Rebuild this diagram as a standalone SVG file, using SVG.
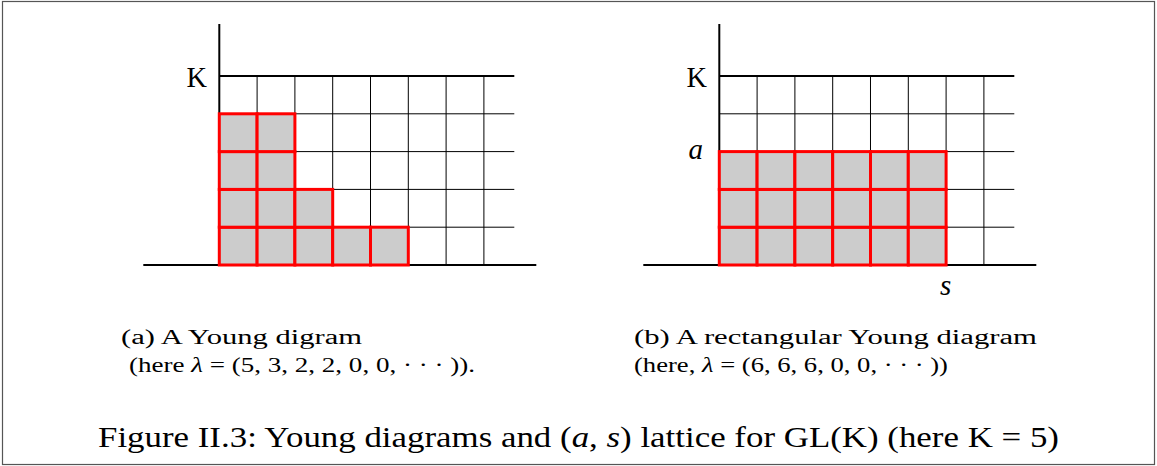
<svg xmlns="http://www.w3.org/2000/svg" width="1157" height="466" viewBox="0 0 1157 466">
<style>
.axis{stroke:#000;stroke-width:2;fill:none}
.grid{stroke:#000;stroke-width:1;fill:none}
.cell{fill:#cccccc;stroke:#ff0000;stroke-width:3}
text{font-family:'Liberation Serif','Times New Roman',Times,serif;fill:#000}
.it{font-style:italic}
</style>
<rect x="2.5" y="1.5" width="1152" height="463" fill="#fff" stroke="#555" stroke-width="1.2"/>
<defs>
<g id="lattice">
<line class="grid" x1="37.8" y1="76" x2="37.8" y2="265"/>
<line class="grid" x1="75.6" y1="76" x2="75.6" y2="265"/>
<line class="grid" x1="113.4" y1="76" x2="113.4" y2="265"/>
<line class="grid" x1="151.2" y1="76" x2="151.2" y2="265"/>
<line class="grid" x1="189" y1="76" x2="189" y2="265"/>
<line class="grid" x1="226.8" y1="76" x2="226.8" y2="265"/>
<line class="grid" x1="264.6" y1="76" x2="264.6" y2="265"/>
<line class="grid" x1="0" y1="113.8" x2="295" y2="113.8"/>
<line class="grid" x1="0" y1="151.6" x2="295" y2="151.6"/>
<line class="grid" x1="0" y1="189.4" x2="295" y2="189.4"/>
<line class="grid" x1="0" y1="227.2" x2="295" y2="227.2"/>
<line class="axis" x1="0" y1="76" x2="295" y2="76"/>
<line class="axis" x1="0" y1="24" x2="0" y2="265"/>
<line class="axis" x1="-76" y1="265" x2="317" y2="265"/>
</g>
</defs>
<g id="panel-a">
<use href="#lattice" x="219.3" y="0"/>
<g id="young-a">
<rect class="cell" x="219.3" y="227.2" width="37.8" height="37.8"/>
<rect class="cell" x="257.1" y="227.2" width="37.8" height="37.8"/>
<rect class="cell" x="294.9" y="227.2" width="37.8" height="37.8"/>
<rect class="cell" x="332.7" y="227.2" width="37.8" height="37.8"/>
<rect class="cell" x="370.5" y="227.2" width="37.8" height="37.8"/>
<rect class="cell" x="219.3" y="189.4" width="37.8" height="37.8"/>
<rect class="cell" x="257.1" y="189.4" width="37.8" height="37.8"/>
<rect class="cell" x="294.9" y="189.4" width="37.8" height="37.8"/>
<rect class="cell" x="219.3" y="151.6" width="37.8" height="37.8"/>
<rect class="cell" x="257.1" y="151.6" width="37.8" height="37.8"/>
<rect class="cell" x="219.3" y="113.8" width="37.8" height="37.8"/>
<rect class="cell" x="257.1" y="113.8" width="37.8" height="37.8"/>
</g>
<text x="186.5" y="87.3" font-size="29" textLength="20.5" lengthAdjust="spacingAndGlyphs">K</text>
<text x="121" y="344" font-size="20" textLength="241" lengthAdjust="spacingAndGlyphs">(a) A Young digram</text>
<text x="129" y="372" font-size="20" textLength="346" lengthAdjust="spacingAndGlyphs">(here <tspan class="it">λ</tspan> = (5, 3, 2, 2, 0, 0, · · · )).</text>
</g>
<g id="panel-b">
<use href="#lattice" x="719.3" y="0"/>
<g id="young-b">
<rect class="cell" x="719.3" y="227.2" width="37.8" height="37.8"/>
<rect class="cell" x="757.1" y="227.2" width="37.8" height="37.8"/>
<rect class="cell" x="794.9" y="227.2" width="37.8" height="37.8"/>
<rect class="cell" x="832.7" y="227.2" width="37.8" height="37.8"/>
<rect class="cell" x="870.5" y="227.2" width="37.8" height="37.8"/>
<rect class="cell" x="908.3" y="227.2" width="37.8" height="37.8"/>
<rect class="cell" x="719.3" y="189.4" width="37.8" height="37.8"/>
<rect class="cell" x="757.1" y="189.4" width="37.8" height="37.8"/>
<rect class="cell" x="794.9" y="189.4" width="37.8" height="37.8"/>
<rect class="cell" x="832.7" y="189.4" width="37.8" height="37.8"/>
<rect class="cell" x="870.5" y="189.4" width="37.8" height="37.8"/>
<rect class="cell" x="908.3" y="189.4" width="37.8" height="37.8"/>
<rect class="cell" x="719.3" y="151.6" width="37.8" height="37.8"/>
<rect class="cell" x="757.1" y="151.6" width="37.8" height="37.8"/>
<rect class="cell" x="794.9" y="151.6" width="37.8" height="37.8"/>
<rect class="cell" x="832.7" y="151.6" width="37.8" height="37.8"/>
<rect class="cell" x="870.5" y="151.6" width="37.8" height="37.8"/>
<rect class="cell" x="908.3" y="151.6" width="37.8" height="37.8"/>
</g>
<text x="686.5" y="87.3" font-size="29" textLength="20.5" lengthAdjust="spacingAndGlyphs">K</text>
<text class="it" x="688.5" y="159.3" font-size="29">a</text>
<text class="it" x="940" y="295" font-size="29">s</text>
<text x="634" y="344" font-size="20" textLength="403" lengthAdjust="spacingAndGlyphs">(b) A rectangular Young diagram</text>
<text x="634" y="372" font-size="20" textLength="314" lengthAdjust="spacingAndGlyphs">(here, <tspan class="it">λ</tspan> = (6, 6, 6, 0, 0, · · · ))</text>
</g>
<g id="caption">
<text x="98" y="447.3" font-size="29" textLength="961" lengthAdjust="spacingAndGlyphs">Figure II.3: Young diagrams and (<tspan class="it">a</tspan>, <tspan class="it">s</tspan>) lattice for GL(K) (here K = 5)</text>
</g>
</svg>
